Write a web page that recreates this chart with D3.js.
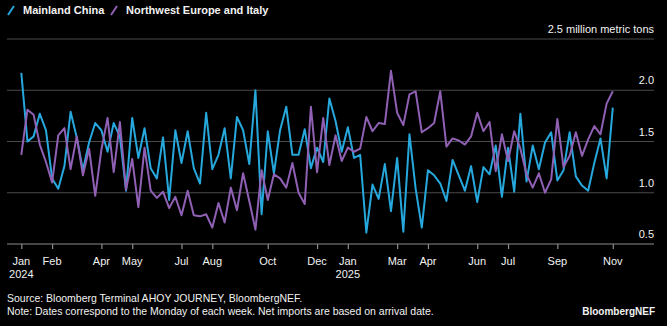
<!DOCTYPE html>
<html>
<head>
<meta charset="utf-8">
<script src="https://cdn.jsdelivr.net/npm/d3@7"></script>
<style>
  body { margin: 0; background: #000; }
  svg { display: block; font-family: "Liberation Sans", Arial, sans-serif; }
</style>
</head>
<body>
<div id="chart"></div>
<script>
// weekly values, Mondays from 1 Jan 2024 to 3 Nov 2025 (million metric tons)
var firstWeek = "2024-01-01";
var lastWeek = "2025-11-03";

var china = [
    2.17, 1.50, 1.55, 1.77, 1.61, 1.14, 1.04, 1.26, 1.79, 1.54,
    1.22, 1.49, 1.68, 1.61, 1.40, 1.68, 1.55, 1.02, 1.73, 1.34,
    1.63, 1.24, 1.14, 1.54, 0.93, 1.61, 1.29, 1.60, 1.24, 1.09,
    1.78, 1.23, 1.37, 1.63, 1.14, 1.74, 1.61, 1.28, 2.00, 0.79,
    1.60, 1.19, 1.61, 1.84, 1.37, 1.37, 1.62, 1.24, 1.44, 1.30,
    1.92, 1.70, 1.40, 1.64, 1.34, 1.37, 0.61, 1.08, 0.94, 1.28,
    0.82, 1.34, 0.62, 1.57, 1.04, 0.66, 1.22, 1.17, 1.09, 0.92,
    1.32, 1.17, 1.02, 1.26, 0.91, 1.25, 1.18, 1.46, 0.96, 1.44,
    1.01, 1.77, 1.11, 1.46, 1.23, 1.49, 1.59, 1.12, 1.22, 1.59,
    1.16, 1.07, 1.02, 1.29, 1.53, 1.14, 1.83
];

var europe = [
    1.37, 1.81, 1.76, 1.47, 1.30, 1.10, 1.56, 1.63, 1.23, 1.55,
    1.17, 1.43, 0.97, 1.42, 1.73, 1.20, 1.69, 1.03, 1.33, 0.86,
    1.44, 1.02, 0.95, 1.01, 0.85, 0.96, 0.78, 1.02, 0.78, 0.77,
    0.79, 0.66, 0.90, 0.71, 1.05, 0.83, 1.19, 0.92, 0.64, 1.22,
    0.93, 1.18, 1.14, 1.05, 1.29, 1.00, 0.89, 1.84, 1.20, 1.73,
    1.27, 1.56, 1.31, 1.44, 1.40, 1.43, 1.74, 1.60, 1.68, 1.67,
    2.19, 1.78, 1.66, 1.96, 1.99, 1.59, 1.63, 1.68, 1.99, 1.45,
    1.53, 1.51, 1.47, 1.55, 1.78, 1.60, 1.69, 1.21, 1.57, 1.31,
    1.60, 1.43, 1.18, 1.05, 1.19, 1.00, 1.13, 1.72, 1.25, 1.36,
    1.59, 1.36, 1.52, 1.65, 1.57, 1.87, 1.99
];

var seriesNames = ["Mainland China", "Northwest Europe and Italy"];
var seriesColors = ["#27a8dd", "#8f60b3"];

var tickDates = ["2024-01-01", "2024-02-05", "2024-04-01", "2024-05-06", "2024-07-01",
    "2024-08-05", "2024-10-07", "2024-12-02", "2025-01-06", "2025-03-03", "2025-04-07",
    "2025-06-02", "2025-07-07", "2025-09-01", "2025-11-03"];
var tickMonths = ["Jan", "Feb", "Apr", "May", "Jul", "Aug", "Oct", "Dec", "Jan", "Mar",
    "Apr", "Jun", "Jul", "Sep", "Nov"];
var tickYears = ["2024", "", "", "", "", "", "", "", "2025", "", "", "", "", "", ""];

var yTicks = [0.5, 1.0, 1.5, 2.0, 2.5];

function init() {
    var w = 667;
    var h = 326;
    var left = 7, right = 654, top = 39, bottom = 244;

    var parse = d3.utcParse("%Y-%m-%d");
    var weeks = d3.utcMonday.range(parse(firstWeek), d3.utcDay.offset(parse(lastWeek), 1));

    var x = d3.scaleUtc()
        .domain([parse(firstWeek), parse(lastWeek)])
        .range([21.3, 612.8]);

    var y = d3.scaleLinear()
        .domain([0.5, 2.5])
        .range([bottom, top]);

    var svg = d3.select("#chart")
        .append("svg")
        .attr("width", w)
        .attr("height", h);

    svg.append("rect").attr("width", w).attr("height", h).attr("fill", "#000");

    // horizontal gridlines (not the baseline)
    svg.append("g")
        .selectAll("line")
        .data(yTicks.slice(1))
        .enter()
        .append("line")
        .attr("x1", left)
        .attr("x2", right)
        .attr("y1", function(d) { return y(d); })
        .attr("y2", function(d) { return y(d); })
        .attr("stroke", "#4a4a4a")
        .attr("stroke-width", 1.2);

    // y labels sit above their gridline, right aligned
    svg.append("g")
        .selectAll("text")
        .data(yTicks)
        .enter()
        .append("text")
        .attr("x", right)
        .attr("y", function(d) { return y(d) - 6; })
        .attr("text-anchor", "end")
        .attr("fill", "#f2f2f2")
        .style("font-size", "11px")
        .text(function(d) { return d === 2.5 ? "2.5 million metric tons" : d.toFixed(1); });

    // x axis
    var xAxis = d3.axisBottom(x)
        .tickValues(tickDates.map(parse))
        .tickSize(5)
        .tickFormat("");

    var ax = svg.append("g")
        .attr("transform", "translate(0," + bottom + ")")
        .call(xAxis);
    ax.select(".domain").remove();
    ax.selectAll(".tick line").attr("stroke", "#8c8c8c").attr("stroke-width", 1.2);

    svg.append("line")
        .attr("x1", left).attr("x2", right)
        .attr("y1", bottom).attr("y2", bottom)
        .attr("stroke", "#8c8c8c")
        .attr("stroke-width", 1.2);

    var labels = svg.append("g");
    tickDates.forEach(function(t, i) {
        var tx = x(parse(t));
        labels.append("text")
            .attr("x", tx).attr("y", 265)
            .attr("text-anchor", "middle")
            .attr("fill", "#f2f2f2")
            .style("font-size", "11px")
            .text(tickMonths[i]);
        if (tickYears[i]) {
            labels.append("text")
                .attr("x", tx).attr("y", 278)
                .attr("text-anchor", "middle")
                .attr("fill", "#f2f2f2")
                .style("font-size", "11px")
                .text(tickYears[i]);
        }
    });

    // lines
    var line = d3.line()
        .x(function(d, i) { return x(weeks[i]); })
        .y(function(d) { return y(d); });

    [china, europe].forEach(function(vals, k) {
        svg.append("path")
            .datum(vals)
            .attr("d", line)
            .attr("fill", "none")
            .attr("stroke", seriesColors[k])
            .attr("stroke-width", 2)
            .attr("stroke-linejoin", "round");
    });

    // legend
    var legX = [7, 110];
    seriesNames.forEach(function(name, k) {
        var g = svg.append("g").attr("transform", "translate(" + legX[k] + ",0)");
        g.append("line")
            .attr("x1", 1).attr("y1", 15)
            .attr("x2", 7).attr("y2", 6)
            .attr("stroke", seriesColors[k])
            .attr("stroke-width", 2);
        g.append("text")
            .attr("x", 16).attr("y", 14)
            .attr("fill", "#f2f2f2")
            .style("font-size", "11px")
            .style("font-weight", "bold")
            .text(name);
    });

    // footer
    svg.append("text")
        .attr("x", 7).attr("y", 302)
        .attr("fill", "#f2f2f2")
        .style("font-size", "10.5px")
        .text("Source: Bloomberg Terminal AHOY JOURNEY, BloombergNEF.");
    svg.append("text")
        .attr("x", 7).attr("y", 315)
        .attr("fill", "#f2f2f2")
        .style("font-size", "10.5px")
        .text("Note: Dates correspond to the Monday of each week. Net imports are based on arrival date.");
    svg.append("text")
        .attr("x", 655).attr("y", 315)
        .attr("text-anchor", "end")
        .attr("fill", "#f2f2f2")
        .style("font-size", "10px")
        .style("font-weight", "bold")
        .text("BloombergNEF");
}

window.onload = init;
</script>
</body>
</html>
